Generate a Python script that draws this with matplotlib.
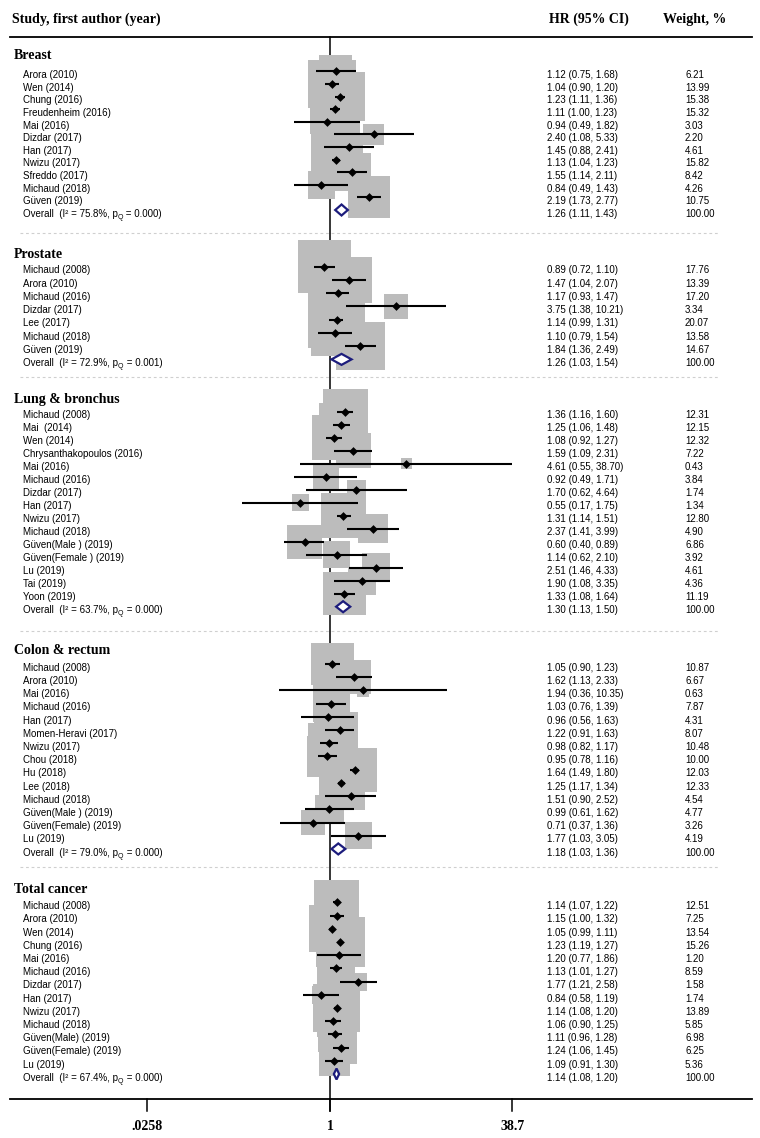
import numpy as np
import matplotlib
matplotlib.use("Agg")
import matplotlib.pyplot as plt

# ---------------- data ----------------
section_titles = ["Breast", "Prostate", "Lung & bronchus", "Colon & rectum", "Total cancer"]

breast_names = ["Arora (2010)", "Wen (2014)", "Chung (2016)", "Freudenheim (2016)", "Mai (2016)",
                "Dizdar (2017)", "Han (2017)", "Nwizu (2017)", "Sfreddo (2017)", "Michaud (2018)",
                "Güven (2019)"]
breast_hr = [1.12, 1.04, 1.23, 1.11, 0.94, 2.40, 1.45, 1.13, 1.55, 0.84, 2.19]
breast_lo = [0.75, 0.90, 1.11, 1.00, 0.49, 1.08, 0.88, 1.04, 1.14, 0.49, 1.73]
breast_hi = [1.68, 1.20, 1.36, 1.23, 1.82, 5.33, 2.41, 1.23, 2.11, 1.43, 2.77]
breast_w = [6.21, 13.99, 15.38, 15.32, 3.03, 2.20, 4.61, 15.82, 8.42, 4.26, 10.75]
breast_overall = (1.26, 1.11, 1.43)
breast_i2, breast_pq = "75.8", "0.000"

prostate_names = ["Michaud (2008)", "Arora (2010)", "Michaud (2016)", "Dizdar (2017)", "Lee (2017)",
                  "Michaud (2018)", "Güven (2019)"]
prostate_hr = [0.89, 1.47, 1.17, 3.75, 1.14, 1.10, 1.84]
prostate_lo = [0.72, 1.04, 0.93, 1.38, 0.99, 0.79, 1.36]
prostate_hi = [1.10, 2.07, 1.47, 10.21, 1.31, 1.54, 2.49]
prostate_w = [17.76, 13.39, 17.20, 3.34, 20.07, 13.58, 14.67]
prostate_overall = (1.26, 1.03, 1.54)
prostate_i2, prostate_pq = "72.9", "0.001"

lung_names = ["Michaud (2008)", "Mai  (2014)", "Wen (2014)", "Chrysanthakopoulos (2016)", "Mai (2016)",
              "Michaud (2016)", "Dizdar (2017)", "Han (2017)", "Nwizu (2017)", "Michaud (2018)",
              "Güven(Male ) (2019)", "Güven(Female ) (2019)", "Lu (2019)", "Tai (2019)", "Yoon (2019)"]
lung_hr = [1.36, 1.25, 1.08, 1.59, 4.61, 0.92, 1.70, 0.55, 1.31, 2.37, 0.60, 1.14, 2.51, 1.90, 1.33]
lung_lo = [1.16, 1.06, 0.92, 1.09, 0.55, 0.49, 0.62, 0.17, 1.14, 1.41, 0.40, 0.62, 1.46, 1.08, 1.08]
lung_hi = [1.60, 1.48, 1.27, 2.31, 38.70, 1.71, 4.64, 1.75, 1.51, 3.99, 0.89, 2.10, 4.33, 3.35, 1.64]
lung_w = [12.31, 12.15, 12.32, 7.22, 0.43, 3.84, 1.74, 1.34, 12.80, 4.90, 6.86, 3.92, 4.61, 4.36, 11.19]
lung_overall = (1.30, 1.13, 1.50)
lung_i2, lung_pq = "63.7", "0.000"

colon_names = ["Michaud (2008)", "Arora (2010)", "Mai (2016)", "Michaud (2016)", "Han (2017)",
               "Momen-Heravi (2017)", "Nwizu (2017)", "Chou (2018)", "Hu (2018)", "Lee (2018)",
               "Michaud (2018)", "Güven(Male ) (2019)", "Güven(Female) (2019)", "Lu (2019)"]
colon_hr = [1.05, 1.62, 1.94, 1.03, 0.96, 1.22, 0.98, 0.95, 1.64, 1.25, 1.51, 0.99, 0.71, 1.77]
colon_lo = [0.90, 1.13, 0.36, 0.76, 0.56, 0.91, 0.82, 0.78, 1.49, 1.17, 0.90, 0.61, 0.37, 1.03]
colon_hi = [1.23, 2.33, 10.35, 1.39, 1.63, 1.63, 1.17, 1.16, 1.80, 1.34, 2.52, 1.62, 1.36, 3.05]
colon_w = [10.87, 6.67, 0.63, 7.87, 4.31, 8.07, 10.48, 10.00, 12.03, 12.33, 4.54, 4.77, 3.26, 4.19]
colon_overall = (1.18, 1.03, 1.36)
colon_i2, colon_pq = "79.0", "0.000"

total_names = ["Michaud (2008)", "Arora (2010)", "Wen (2014)", "Chung (2016)", "Mai (2016)",
               "Michaud (2016)", "Dizdar (2017)", "Han (2017)", "Nwizu (2017)", "Michaud (2018)",
               "Güven(Male) (2019)", "Güven(Female) (2019)", "Lu (2019)"]
total_hr = [1.14, 1.15, 1.05, 1.23, 1.20, 1.13, 1.77, 0.84, 1.14, 1.06, 1.11, 1.24, 1.09]
total_lo = [1.07, 1.00, 0.99, 1.19, 0.77, 1.01, 1.21, 0.58, 1.08, 0.90, 0.96, 1.06, 0.91]
total_hi = [1.22, 1.32, 1.11, 1.27, 1.86, 1.27, 2.58, 1.19, 1.20, 1.25, 1.28, 1.45, 1.30]
total_w = [12.51, 7.25, 13.54, 15.26, 1.20, 8.59, 1.58, 1.74, 13.89, 5.85, 6.98, 6.25, 5.36]
total_overall = (1.14, 1.08, 1.20)
total_i2, total_pq = "67.4", "0.000"

axis_ticks = [0.0258, 1, 38.7]
axis_tick_labels = [".0258", "1", "38.7"]

# ---------------- layout / style ----------------
W, H = 760, 1138
PX_PER_LN = 49.9
X_ONE = 330
GRAY = "#bcbcbc"
NAVY = "#1c1c7c"
SANS = ["Liberation Sans", "DejaVu Sans"]
SERIF = ["Liberation Serif", "DejaVu Serif"]

heading_y = [55, 254, 399, 650, 889]
first_row_y = [74.7, 270, 415, 667.3, 905.7]
row_step = [12.6, 13.24, 13.0, 13.21, 13.2]
separator_y = [233, 376.7, 630.7, 866.7]
PT_OFF = 3.3
BASE_OFF = 3.4

sections = [
    (breast_names, breast_hr, breast_lo, breast_hi, breast_w, breast_overall, breast_i2, breast_pq),
    (prostate_names, prostate_hr, prostate_lo, prostate_hi, prostate_w, prostate_overall, prostate_i2, prostate_pq),
    (lung_names, lung_hr, lung_lo, lung_hi, lung_w, lung_overall, lung_i2, lung_pq),
    (colon_names, colon_hr, colon_lo, colon_hi, colon_w, colon_overall, colon_i2, colon_pq),
    (total_names, total_hr, total_lo, total_hi, total_w, total_overall, total_i2, total_pq),
]

fig = plt.figure(figsize=(W / 100, H / 100), dpi=100)
fig.patch.set_facecolor("white")

ax = fig.add_axes([0, 0, 1, 1])
ax.set_xscale("log")
ax.set_xlim(np.exp(-X_ONE / PX_PER_LN), np.exp((W - X_ONE) / PX_PER_LN))
ax.set_ylim(H, 0)
ax.axis("off")

tx = fig.add_axes([0, 0, 1, 1])
tx.set_xlim(0, W)
tx.set_ylim(H, 0)
tx.axis("off")
tx.patch.set_alpha(0)


def row_text(x, y, s):
    return tx.text(x, y + BASE_OFF, s, family=SANS, fontsize=7, va="baseline")


# header
tx.text(12, 19, "Study, first author (year)", family=SERIF, fontweight="bold", fontsize=10, va="center")
tx.text(549, 19, "HR (95% CI)", family=SERIF, fontweight="bold", fontsize=10, va="center")
tx.text(663, 19, "Weight, %", family=SERIF, fontweight="bold", fontsize=10, va="center")
tx.plot([10, 752], [37, 37], color="black", lw=1.3)

# reference line at 1
ax.plot([1, 1], [37, 1111], color="black", lw=1.1, zorder=1)

for si, (names, hr, lo, hi, w, ov, i2, pq) in enumerate(sections):
    tx.text(14, heading_y[si], section_titles[si], family=SERIF, fontweight="bold", fontsize=10, va="center")
    n = len(names)
    ys = np.array([first_row_y[si] + i * row_step[si] for i in range(n + 1)])
    pys = ys - PT_OFF
    w_arr = np.array(w)
    side_px = 11.9 * np.sqrt(w_arr) + 2.9
    ax.scatter(hr, pys[:n], marker="s", s=(side_px * 0.72) ** 2, color=GRAY, linewidths=0, zorder=2)
    ax.hlines(pys[:n], lo, hi, color="black", lw=1.5, zorder=3)
    ax.scatter(hr, pys[:n], marker="D", s=20, color="black", linewidths=0, zorder=4)
    for i in range(n):
        row_text(23, ys[i], names[i])
        row_text(547, ys[i], f"{hr[i]:.2f} ({lo[i]:.2f}, {hi[i]:.2f})")
        row_text(685, ys[i], f"{w[i]:.2f}")
    # overall
    oy = ys[n]
    ohr, olo, ohi = ov
    ax.fill([olo, ohr, ohi, ohr], [oy - PT_OFF, oy - PT_OFF - 5.5, oy - PT_OFF, oy - PT_OFF + 5.5],
            facecolor="white", edgecolor=NAVY, lw=1.6, zorder=5)
    t1 = row_text(23, oy, "Overall  (I² = " + i2 + "%, p")
    t2 = tx.annotate("Q", xy=(1, oy + BASE_OFF + 2.0), xycoords=(t1, "data"),
                     family=SANS, fontsize=5, va="baseline")
    tx.annotate(" = " + pq + ")", xy=(1, oy + BASE_OFF), xycoords=(t2, "data"),
                family=SANS, fontsize=7, va="baseline")
    row_text(547, oy, f"{ohr:.2f} ({olo:.2f}, {ohi:.2f})")
    row_text(685, oy, "100.00")
    if si < len(separator_y):
        tx.plot([20, 718], [separator_y[si]] * 2, color="#cfcfcf", lw=0.8, ls=(0, (2.5, 2.5)))

# bottom axis
tx.plot([10, 752], [1099, 1099], color="black", lw=1.3)
for v, lbl in zip(axis_ticks, axis_tick_labels):
    ax.plot([v, v], [1099, 1111], color="black", lw=1.1)
    ax.text(v, 1126, lbl, family=SERIF, fontweight="bold", fontsize=10, ha="center", va="center")

fig.savefig("out.png", dpi=100, facecolor="white")
